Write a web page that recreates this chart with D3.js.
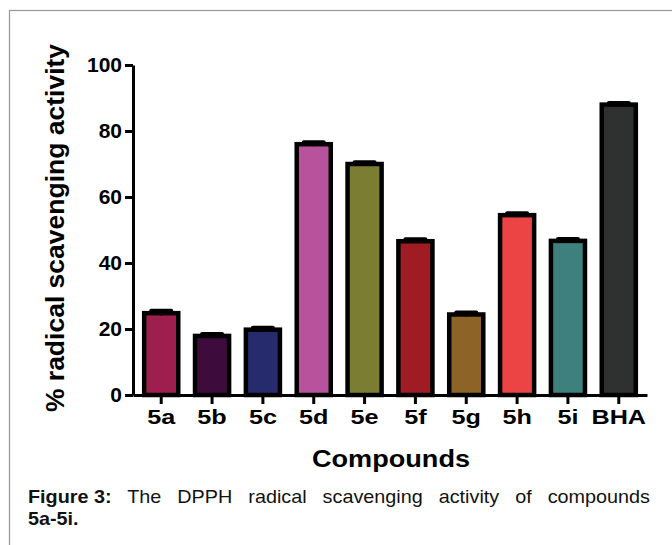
<!DOCTYPE html>
<html>
<head>
<meta charset="utf-8">
<script src="https://d3js.org/d3.v7.min.js"></script>
<style>
  body { margin: 0; background: #fff; }
  svg text { font-family: "Liberation Sans", Arial, sans-serif; }
</style>
</head>
<body>
<div id="chart"></div>
<script>
// values
compounds = ["5a", "5b", "5c", "5d", "5e", "5f", "5g", "5h", "5i", "BHA"]
activity = [24.8, 17.9, 19.8, 76.0, 70.0, 46.6, 24.4, 54.5, 46.7, 88.0]
errors = [0.7, 0.6, 0.6, 0.6, 0.5, 0.6, 0.6, 0.6, 0.6, 0.5]
barColors = ["#9E1F4E", "#3E0B3D", "#262B6E", "#B9529C", "#7A7D32",
             "#9E1C22", "#8E6328", "#EC4445", "#3D807D", "#2F3130"]
yTicks = [0, 20, 40, 60, 80, 100]

width = 672
height = 545

svg = d3.select("#chart").append("svg")
    .attr("width", width)
    .attr("height", height)

// grey frame of the figure panel
svg.append("rect")
    .attr("x", 9.5)
    .attr("y", 10.5)
    .attr("width", 700)
    .attr("height", 600)
    .style("fill", "none")
    .style("stroke", "#9a9a9a")
    .style("stroke-width", 1.3)

x = d3.scaleBand()
    .domain(compounds)
    .range([133, 647])
    .paddingInner(0.33)
    .paddingOuter(0.22)

y = d3.scaleLinear()
    .domain([0, 100])
    .range([395, 65])

data = compounds.map(function(c, i) {
  return {name: c, value: activity[i], err: errors[i], color: barColors[i]}
})

// bars
svg.selectAll("rect.bar")
    .data(data)
    .join("rect")
    .attr("class", "bar")
    .attr("x", d => x(d.name))
    .attr("y", d => y(d.value))
    .attr("width", x.bandwidth())
    .attr("height", d => y(0) - y(d.value))
    .style("fill", d => d.color)
    .style("stroke", "#000")
    .style("stroke-width", 4.5)

// error bars (only the upper half shows above the bar)
capW = 20
svg.selectAll("line.err")
    .data(data)
    .join("line")
    .attr("class", "err")
    .attr("x1", d => x(d.name) + x.bandwidth() / 2)
    .attr("x2", d => x(d.name) + x.bandwidth() / 2)
    .attr("y1", d => y(d.value - d.err))
    .attr("y2", d => y(d.value + d.err))
    .style("stroke", "#000")
    .style("stroke-width", 2)

svg.selectAll("line.cap")
    .data(data)
    .join("line")
    .attr("class", "cap")
    .attr("x1", d => x(d.name) + x.bandwidth() / 2 - capW / 2)
    .attr("x2", d => x(d.name) + x.bandwidth() / 2 + capW / 2)
    .attr("y1", d => y(d.value + d.err))
    .attr("y2", d => y(d.value + d.err))
    .style("stroke", "#000")
    .style("stroke-width", 4)
    .style("stroke-linecap", "round")

// Y axis
yAxis = svg.append("g")
    .attr("transform", "translate(133,0)")
    .call(d3.axisLeft(y).tickValues(yTicks).tickSize(8).tickSizeOuter(0).tickPadding(3))
yAxis.select(".domain").style("stroke-width", 3)
yAxis.selectAll(".tick line").style("stroke-width", 3)
yAxis.selectAll(".tick text")
    .style("font-size", "21px")
    .style("font-weight", "bold")
    .style("fill", "#000")

// X axis
xAxis = svg.append("g")
    .attr("transform", "translate(0,395)")
    .call(d3.axisBottom(x).tickSize(9).tickSizeOuter(0).tickPadding(5))
xAxis.select(".domain").style("stroke-width", 3)
xAxis.selectAll(".tick line").style("stroke-width", 3)
xAxis.selectAll(".tick text")
    .style("font-size", "21px")
    .style("font-weight", "bold")
    .style("fill", "#000")
    .attr("transform", "scale(1.2,1)")

// axis titles
svg.append("g")
    .attr("transform", "translate(391,467)")
  .append("text")
    .attr("text-anchor", "middle")
    .attr("transform", "scale(1.13,1)")
    .style("font-size", "24px")
    .style("font-weight", "bold")
    .text("Compounds")

svg.append("text")
    .attr("transform", "translate(64,228) rotate(-90)")
    .attr("text-anchor", "middle")
    .style("font-size", "26.5px")
    .style("font-weight", "bold")
    .text("% radical scavenging activity")

// caption, first line justified between 28 and 650 (text a bit widened like the scan)
stretch = 1.1
cap1 = svg.append("text")
    .attr("transform", "translate(28,503) scale(" + stretch + ",1)")
    .style("font-size", "18px")
    .style("fill", "#111")
cap1.append("tspan").style("font-weight", "bold").text("Figure 3:")
rest = cap1.append("tspan").text(" The DPPH radical scavenging activity of compounds")

natural = cap1.node().getComputedTextLength()
rest.style("word-spacing", ((650 - 28) / stretch - natural) / 7 + "px")

svg.append("text")
    .attr("transform", "translate(28,525) scale(" + stretch + ",1)")
    .style("font-size", "18px")
    .style("font-weight", "bold")
    .style("fill", "#111")
    .text("5a-5i.")
</script>
</body>
</html>
